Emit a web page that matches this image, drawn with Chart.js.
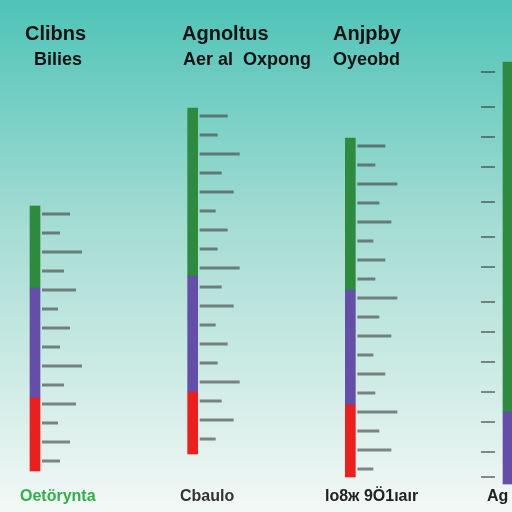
<!DOCTYPE html>
<html>
<head>
<meta charset="utf-8">
<script src="https://cdn.jsdelivr.net/npm/chart.js@4.4.1/dist/chart.umd.min.js"></script>
<style>
  html, body { margin: 0; padding: 0; background: #ffffff; }
  #wrap { width: 512px; height: 512px; }
</style>
</head>
<body>
<div id="wrap"><canvas id="myChart" width="512" height="512"></canvas></div>
<script>
// categories (one per column) and their garbled captions
const CATEGORIES = ["Oetörynta", "Cbaulo", "lo8ж 9Ö1ıaır", "Ag"];
const TITLES_TOP = ["Clibns", "Agnoltus", "Anjpby"];
const TITLES_SUB = ["Bilies", "Aer al  Oxpong", "Oyeobd"];

// floating segments [low, high] per column
const RED_SEGMENT = [[41, 114], [58, 120], [35, 107], null];
const PURPLE_SEGMENT = [[114, 224], [120, 236], [107, 222], [28, 100]];
const GREEN_SEGMENT = [[224, 306], [236, 404], [222, 374], [100, 450]];

// faint tick-like marks on the right-hand side
const SIDE_TICKS = [440, 405, 375, 345, 310, 275, 245, 210, 180, 150, 120, 90, 60, 35];

const COLOURS = {
    red: "rgba(236, 30, 30, 1.0)",
    purple: "rgba(100, 78, 168, 1.0)",
    green: "rgba(46, 138, 62, 1.0)",
};

const backgroundPlugin = {
    id: 'gradientBackground',
    beforeDraw(chart) {
        let ctx = chart.ctx;
        let g = ctx.createLinearGradient(0, 0, 0, chart.height);
        g.addColorStop(0, "#4ec3b7");
        g.addColorStop(0.45, "#a6ddd4");
        g.addColorStop(1, "#f3f8f6");
        ctx.save();
        ctx.fillStyle = g;
        ctx.fillRect(0, 0, chart.width, chart.height);
        ctx.restore();
    }
};

// small grey scribbles beside each bar, like the reference's unreadable labels
const scribblePlugin = {
    id: 'scribbles',
    afterDatasetsDraw(chart) {
        let ctx = chart.ctx;
        let y = chart.scales.y;
        let meta = chart.getDatasetMeta(1);
        ctx.save();
        ctx.fillStyle = "rgba(60, 60, 60, 0.6)";
        meta.data.forEach((bar, i) => {
            if (i == 3) return;
            let lo = RED_SEGMENT[i][0];
            let hi = GREEN_SEGMENT[i][1];
            let k = 0;
            for (let v = hi - 8; v > lo; v -= 19) {
                let w = [28, 18, 40, 22, 34, 16][k % 6];
                ctx.fillRect(bar.x + 7, y.getPixelForValue(v) - 1.5, w, 3);
                k++;
            }
        });
        ctx.fillStyle = "rgba(50, 50, 50, 0.55)";
        SIDE_TICKS.forEach(v => ctx.fillRect(481, y.getPixelForValue(v) - 1, 14, 2));
        ctx.restore();
    }
};

const captionPlugin = {
    id: 'captions',
    afterDraw(chart) {
        let ctx = chart.ctx;
        ctx.save();
        ctx.textBaseline = "middle";
        ctx.fillStyle = "#111";
        ctx.font = "bold 20px 'Liberation Sans', Arial, sans-serif";
        let topX = [25, 182, 333];
        TITLES_TOP.forEach((t, i) => ctx.fillText(t, topX[i], 34));
        ctx.font = "bold 18px 'Liberation Sans', Arial, sans-serif";
        let subX = [34, 183, 333];
        TITLES_SUB.forEach((t, i) => ctx.fillText(t, subX[i], 60));

        // bottom captions
        let bottomX = [20, 180, 325, 487];
        ctx.font = "bold 16px 'Liberation Sans', Arial, sans-serif";
        CATEGORIES.forEach((t, i) => {
            ctx.fillStyle = i == 0 ? "#2fb04a" : (i == 1 ? "#333" : "#222");
            ctx.fillText(t, bottomX[i], 497);
        });
        ctx.restore();
    }
};

const ctx = document.getElementById('myChart').getContext('2d');

let datasets = [
    { label: "red", data: RED_SEGMENT, backgroundColor: COLOURS.red },
    { label: "purple", data: PURPLE_SEGMENT, backgroundColor: COLOURS.purple },
    { label: "green", data: GREEN_SEGMENT, backgroundColor: COLOURS.green },
].map(d => Object.assign(d, { barThickness: 10, borderWidth: 0, borderSkipped: false, clip: false }));

new Chart(ctx, {
    type: 'bar',
    data: {
        labels: CATEGORIES,
        datasets: datasets,
    },
    options: {
        responsive: false,
        animation: false,
        layout: { padding: { left: 35, right: 4, top: 0, bottom: 0 } },
        plugins: {
            legend: { display: false },
            tooltip: { enabled: false },
        },
        scales: {
            x: {
                display: false,
                stacked: true,
                offset: false,
            },
            y: {
                display: false,
                stacked: false,
                min: 0,
                max: 512,
            }
        }
    },
    plugins: [backgroundPlugin, scribblePlugin, captionPlugin],
});
</script>
</body>
</html>
